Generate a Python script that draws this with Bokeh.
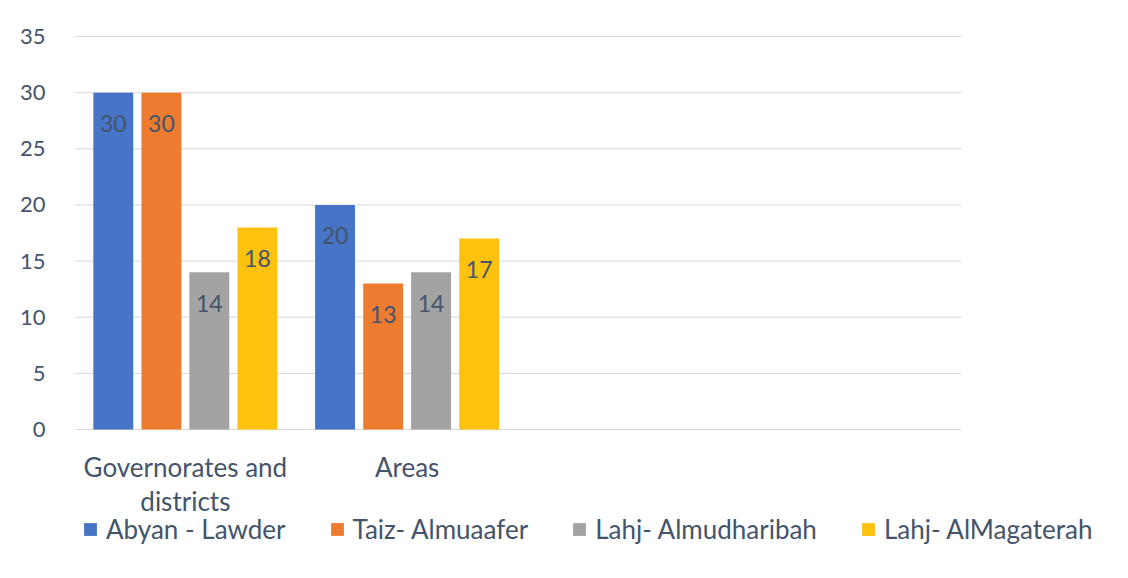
from bokeh.plotting import figure
from bokeh.models import Range1d, FixedTicker, Legend, LegendItem, ColumnDataSource
from bokeh.core.properties import value
from bokeh.embed import file_html
from bokeh.resources import INLINE

categories = ["Governorates and districts", "Areas", "", ""]
category_labels = ["Governorates and\ndistricts", "Areas", "", ""]
series = ["Abyan - Lawder", "Taiz- Almuaafer", "Lahj- Almudharibah", "Lahj- AlMagaterah"]
abyan_lawder = [30, 20]
taiz_almuaafer = [30, 13]
lahj_almudharibah = [14, 14]
lahj_almagaterah = [18, 17]
y_ticks = [0, 5, 10, 15, 20, 25, 30, 35]

colors = ["#4674C6", "#ED7C31", "#A3A3A3", "#FDC20E"]
offsets = [-0.325, -0.108, 0.108, 0.325]
FONT = "Lato"
TXT = "#44546A"
GRID = "#D9D9D9"

n_cat = len(categories)
cat_pos = [i + 0.5 for i in range(n_cat)]

# frame extends below zero and to the right so that category labels and legend live inside it
p = figure(width=1120, height=570, x_range=Range1d(0, 4.717),
           y_range=Range1d(-12.557, 35.089), output_backend="svg", toolbar_location=None,
           x_axis_location=None,
           min_border_left=74, min_border_right=0, min_border_top=35, min_border_bottom=0)
p.outline_line_color = None
p.border_fill_color = "white"
p.background_fill_color = "white"
p.xgrid.grid_line_color = None
p.ygrid.grid_line_color = None

# value gridlines across the category span (0 line doubles as the category axis line)
p.segment(x0=[0] * len(y_ticks), x1=[n_cat] * len(y_ticks), y0=y_ticks, y1=y_ticks,
          line_color=GRID, line_width=1)

values = [abyan_lawder, taiz_almuaafer, lahj_almudharibah, lahj_almagaterah]
items = []
for name, vals, col, off in zip(series, values, colors, offsets):
    xs = [cat_pos[i] + off for i in range(len(vals))]
    src = ColumnDataSource(dict(x=xs, top=vals, lab=[str(v) for v in vals]))
    r = p.vbar(x="x", top="top", bottom=0, width=0.18, source=src,
               fill_color=col, line_color=None)
    p.text(x="x", y="top", text="lab", source=src,
           text_align="center", text_baseline="middle", y_offset=31,
           text_font=value(FONT), text_font_size="23px", text_color=TXT)
    items.append(LegendItem(label=name, renderers=[r]))

# category labels (the x axis)
p.text(x=cat_pos, y=[0] * n_cat, text=category_labels,
       text_align="center", text_baseline="top", y_offset=21, text_line_height=1.08,
       text_font=value(FONT), text_font_size="26px", text_color=TXT)

p.yaxis.ticker = FixedTicker(ticks=y_ticks)
p.yaxis.axis_line_color = None
p.yaxis.major_tick_line_color = None
p.yaxis.minor_tick_line_color = None
p.yaxis.major_label_standoff = 23
p.yaxis.major_label_text_font = FONT
p.yaxis.major_label_text_font_size = "22px"
p.yaxis.major_label_text_color = TXT

legend = Legend(items=items, orientation="horizontal", location=(8, 25),
                label_text_font=FONT, label_text_font_size="26px", label_text_color=TXT,
                glyph_width=16, glyph_height=16, spacing=43, padding=10, margin=0,
                label_standoff=8, border_line_color=None, background_fill_alpha=0)
p.add_layout(legend, "center")

open("out.html", "w").write(file_html(p, INLINE))
